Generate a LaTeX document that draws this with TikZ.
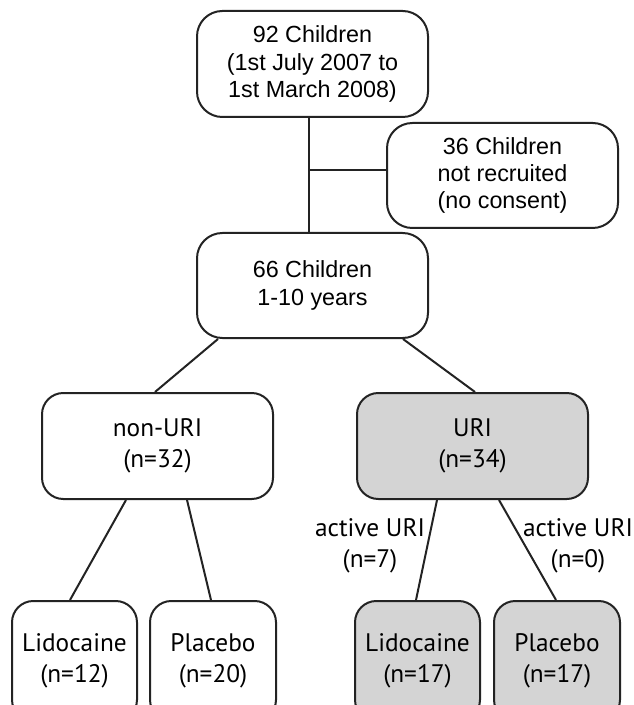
\documentclass[tikz,border=0pt]{standalone}
\usepackage{fontspec}
\setmainfont{Liberation Sans}
\newfontfamily\armfont{PT Sans}
\usetikzlibrary{calc}
\definecolor{urigrey}{RGB}{212,212,212}
\definecolor{inkgrey}{RGB}{35,35,35}
\tikzset{
  boxsize/.style 2 args={minimum width=#1*0.75pt, minimum height=#2*0.75pt},
  headbox/.style={draw=inkgrey, line width=1.5pt, rounded corners=19pt, align=center, inner sep=0pt, font=\fontsize{17.5}{20.5}\selectfont},
  armbox/.style={draw=inkgrey, line width=1.5pt, rounded corners=16pt, align=center, inner sep=0pt, font=\armfont\fontsize{19}{23}\selectfont},
  urinode/.style={armbox, fill=urigrey},
  link/.style={draw=inkgrey, line width=1.5pt},
  armlabel/.style={align=center, inner sep=0pt, font=\armfont\fontsize{19}{23}\selectfont}
}
\begin{document}
\begin{tikzpicture}[x=0.75pt, y=-0.75pt]
\useasboundingbox (0,0) rectangle (633,705);
\clip (0,0) rectangle (633,705);
% screening
\node[headbox, boxsize={231}{106}] (all) at (312.5,64) {92 Children\\(1st July 2007 to\\1st March 2008)};
\node[headbox, boxsize={231}{105}] (norecruit) at (502.5,175.5) {36 Children\\not recruited\\(no consent)};
\node[headbox, boxsize={231}{105}] (enrolled) at (312.5,285.5) {66 Children\\1-10 years};
\coordinate (split) at (309,170);
\draw[link] ($(all.south)+(-3.5,0)$) -- ($(enrolled.north)+(-3.5,0)$);
\draw[link] (split) -- (split -| norecruit.west);
% groups
\node[armbox, boxsize={231}{106}] (nonuri) at (157.5,446) {non-URI\\(n=32)};
\node[urinode, boxsize={231}{106}] (uri) at (472.5,446) {URI\\(n=34)};
\draw[link] ($(enrolled.south)+(-94.5,0)$) -- ($(nonuri.north)+(-2.5,0)$);
\draw[link] ($(enrolled.south)+(90.5,0)$) -- ($(uri.north)+(2.5,0)$);
% treatment arms
\node[armbox, boxsize={125}{120}] (lidoA) at (74.5,661) {Lidocaine\\(n=12)};
\node[armbox, boxsize={126}{120}] (placA) at (213,661) {Placebo\\(n=20)};
\node[urinode, boxsize={125}{120}] (lidoB) at (417.5,661) {Lidocaine\\(n=17)};
\node[urinode, boxsize={126}{120}] (placB) at (557,661) {Placebo\\(n=17)};
\draw[link] ($(nonuri.south)+(-31.5,0)$) -- ($(lidoA.north)+(-4.5,0)$);
\draw[link] ($(nonuri.south)+(29.5,0)$) -- ($(placA.north)+(-2,0)$);
\draw[link] ($(uri.south)+(-35.5,0)$) -- ($(lidoB.north)+(-1.5,0)$);
\draw[link] ($(uri.south)+(26.5,0)$) -- ($(placB.north)+(-1,0)$);
\node[armlabel] (activeA) at (370,546) {active URI\\(n=7)};
\node[armlabel] (activeB) at (578,546) {active URI\\(n=0)};
\end{tikzpicture}
\end{document}
